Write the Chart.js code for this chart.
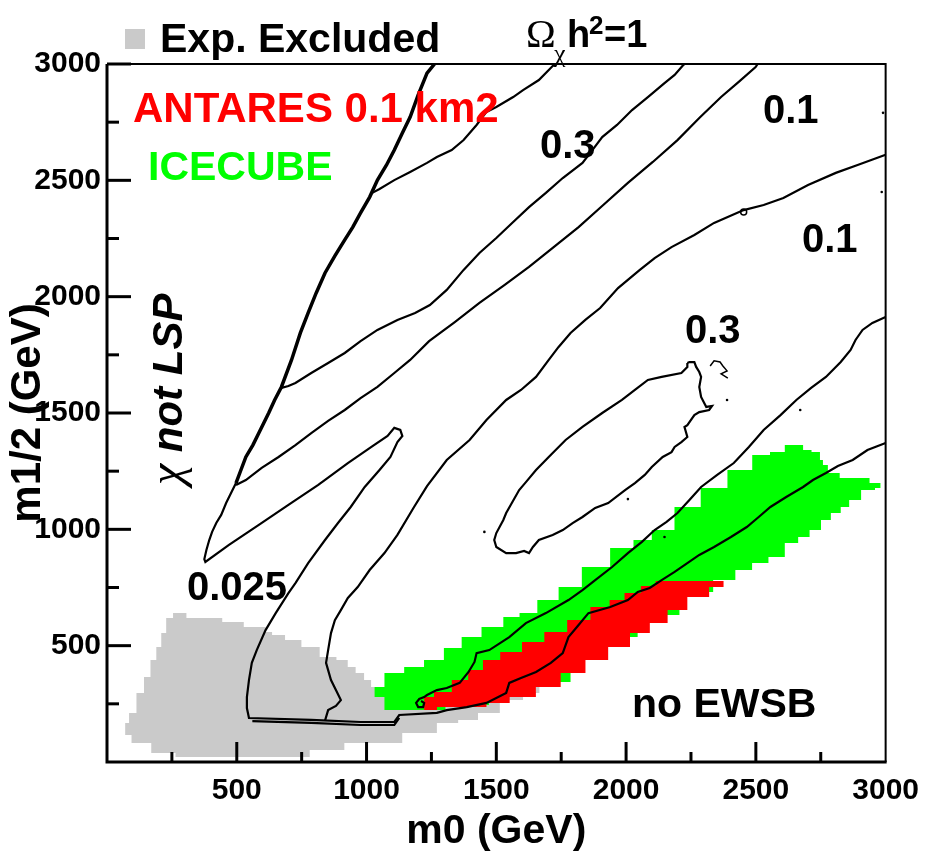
<!DOCTYPE html>
<html>
<head>
<meta charset="utf-8">
<script src="https://cdn.jsdelivr.net/npm/chart.js@4.4.0/dist/chart.umd.min.js"></script>
<style>
  html, body { margin: 0; padding: 0; background: #fff; }
  #wrap { width: 930px; height: 856px; }
</style>
</head>
<body>
<div id="wrap"><canvas id="chart" width="930" height="856"></canvas></div>
<script>
// axis labels
const xTickLabels = [500, 1000, 1500, 2000, 2500, 3000];
const yTickLabels = [500, 1000, 1500, 2000, 2500, 3000];

// contours, [m0, m1/2] in GeV
const lspBoundary = [[1262,3000],[1233,2961],[1199,2867],[1168,2772],[1138,2703],[1107,2630],[1077,2566],[1042,2501],[1012,2428],[977,2360],[947,2299],[916,2244],[878,2175],[840,2102],[806,2016],[775,1930],[745,1844],[711,1728],[672,1612],[646,1556],[623,1500],[585,1414],[562,1362],[535,1311],[516,1255],[497,1199]];

const omegaOne = [[1022,2446],[1050,2463],[1107,2501],[1168,2536],[1233,2575],[1271,2600],[1328,2630],[1374,2673],[1424,2738],[1462,2794],[1500,2815],[1565,2858],[1603,2888],[1664,2931],[1717,2991],[1729,3000]];

const level03 = [[672,1608],[699,1616],[726,1629],[787,1672],[852,1715],[916,1758],[977,1809],[1042,1857],[1119,1900],[1187,1930],[1244,1964],[1309,2029],[1374,2115],[1435,2188],[1500,2252],[1565,2321],[1626,2385],[1691,2446],[1756,2510],[1832,2575],[1870,2630],[1908,2686],[1965,2738],[2023,2802],[2084,2858],[2148,2918],[2187,2953],[2217,2991],[2225,3000]];

const level01 = [[497,1191],[535,1212],[596,1264],[661,1311],[726,1362],[787,1414],[852,1466],[916,1513],[977,1564],[1042,1612],[1107,1672],[1168,1728],[1241,1809],[1340,1891],[1435,1973],[1531,2050],[1626,2128],[1721,2213],[1817,2299],[1912,2394],[2007,2489],[2103,2579],[2198,2673],[2282,2768],[2366,2858],[2434,2923],[2499,2987],[2507,3000]];

const zBranch = [[497,1199],[459,1113],[440,1062],[421,1027],[405,989],[394,954],[383,911],[375,872],[379,860],
  [470,933],[585,1019],[699,1105],[814,1191],[928,1285],[1023,1358],[1081,1401],[1107,1436],[1130,1427],[1138,1401],
  [1119,1375],[1092,1311],[1050,1255],[993,1182],[939,1096],[890,1027],[840,954],[775,855],[726,769],[699,726],[650,640],[611,567],[577,481],[558,426],[547,352],[539,279],[539,232],[547,189],
  [787,181],[977,172],[1107,172],[1126,202],[1271,211],
  [1309,223],[1386,236],[1462,254],[1538,297],[1550,340],[1595,361],[1653,387],[1710,426],[1756,468],[1778,537],[1817,589],[1855,640],[1939,666],[2007,696],[2045,731],[2091,748],[2137,782],[2187,817],[2236,855],[2282,890],[2339,924],[2404,967],[2465,1010],[2511,1053],[2556,1096],[2617,1139],[2682,1182],[2720,1212],[2770,1242],[2816,1272],[2873,1298],[2930,1341],[3000,1371]];

const bottomTwin = [[560,176],[787,168],[977,159],[1107,159],[1126,190]];

const rightArm = [[840,178],[852,223],[882,241],[901,266],[882,309],[863,352],[852,395],[844,426],[852,481],[863,554],[878,610],[901,653],[928,705],[966,752],[1012,825],[1069,898],[1119,976],[1183,1096],[1233,1186],[1309,1298],[1397,1384],[1462,1470],[1538,1556],[1595,1599],[1653,1655],[1702,1728],[1740,1784],[1786,1844],[1843,1900],[1900,1951],[1969,2037],[2053,2115],[2110,2166],[2175,2213],[2263,2265],[2339,2317],[2453,2372],[2530,2394],[2606,2424],[2701,2480],[2808,2532],[2892,2566],[3000,2610]];

const upperBand = [[3000,1913],[2949,1887],[2911,1857],[2884,1814],[2865,1771],[2827,1719],[2770,1655],[2713,1608],[2656,1556],[2595,1491],[2530,1427],[2473,1354],[2415,1285],[2351,1234],[2289,1182],[2244,1126],[2198,1070],[2156,1032],[2110,997],[2061,946],[2007,898],[1946,838],[1881,782],[1832,739],[1778,696],[1691,640],[1614,597],[1550,537],[1473,481],[1424,468],[1416,430],[1393,387],[1359,340],[1309,318],[1271,309],[1233,288],[1222,279],[1203,271],[1191,254],[1199,236],[1218,236],[1222,254],[1210,262]];

const island = [[2236,1715],[2244,1719],[2263,1719],[2270,1698],[2282,1676],[2289,1655],[2282,1612],[2289,1569],[2309,1526],[2331,1530],[2320,1513],[2282,1504],[2263,1491],[2236,1448],[2225,1440],[2236,1397],[2213,1375],[2187,1354],[2175,1332],[2141,1311],[2099,1268],[2072,1234],[2034,1199],[1996,1169],[1931,1113],[1881,1092],[1832,1053],[1794,1027],[1756,997],[1717,976],[1664,954],[1641,924],[1626,898],[1607,907],[1576,898],[1538,898],[1500,924],[1492,954],[1500,984],[1527,1040],[1538,1070],[1588,1169],[1614,1203],[1653,1255],[1702,1311],[1767,1384],[1832,1440],[1908,1500],[1984,1556],[2034,1599],[2084,1642],[2137,1655],[2213,1672],[2236,1698],[2236,1715]];

const squiggle = [[2324,1702],[2339,1724],[2362,1719],[2373,1702],[2389,1681],[2366,1668],[2392,1650]];
const specks = [[2007,1130],[2389,1556],[2671,1513],[1454,989],[2148,967],[2985,2450],[2990,2790]];
const ringMark = [[2453,2364]];

// shaded regions
const expExcluded = [[241,619],[268,640],[306,640],[306,619],[444,619],[444,602],[527,602],[527,580],[611,580],[611,559],[661,546],[711,524],[787,494],[852,451],[916,438],[939,408],[977,383],[1004,352],[1031,322],[1119,288],[1233,258],[1386,266],[1576,301],[1729,378],[1767,361],[1756,352],[1691,322],[1641,297],[1565,266],[1462,211],[1397,181],[1309,168],[1233,125],[1042,82],[787,52],[775,21],[306,21],[222,39],[119,82],[70,116],[70,168],[100,211],[127,297],[158,365],[177,438],[203,494],[215,554],[241,619]];

const icecube = [[1031,322],[1107,383],[1183,408],[1260,438],[1336,490],[1397,537],[1489,580],[1565,623],[1614,640],[1702,696],[1778,752],[1881,838],[1996,920],[2061,954],[2137,997],[2236,1096],[2339,1178],[2442,1255],[2530,1319],[2579,1332],[2644,1362],[2682,1362],[2682,1341],[2747,1332],[2747,1298],[2770,1277],[2785,1242],[2823,1242],[2823,1221],[2938,1221],[2938,1199],[2980,1199],[2980,1178],[2938,1169],[2873,1126],[2846,1096],[2808,1070],[2770,1040],[2732,997],[2682,967],[2644,941],[2579,881],[2518,855],[2453,825],[2389,782],[2282,731],[2129,632],[1960,537],[1862,438],[1710,344],[1557,279],[1386,245],[1222,223],[1069,223],[1069,279],[1031,279],[1031,322]];

const antares = [[2385,778],[2137,778],[2091,756],[2023,726],[1965,696],[1908,666],[1817,610],[1729,559],[1641,516],[1557,473],[1473,438],[1424,395],[1359,352],[1298,301],[1222,279],[1222,223],[1321,236],[1424,236],[1500,254],[1603,279],[1702,322],[1794,383],[1893,438],[1969,494],[2061,554],[2122,597],[2198,653],[2274,709],[2366,752],[2385,778]];

const FONT = "'Liberation Sans', Arial, Helvetica, sans-serif";
Chart.defaults.font.family = FONT;
Chart.defaults.color = '#000';

const toPts = arr => arr.map(([x, y]) => ({ x, y }));

function contour(arr, width) {
  return {
    data: toPts(arr), showLine: true, borderColor: '#000', borderWidth: width || 2.2,
    pointRadius: 0, fill: false, tension: 0, order: 1
  };
}

function region(arr, color, order) {
  return {
    data: toPts(arr), showLine: true, borderColor: 'rgba(0,0,0,0)', borderWidth: 1,
    backgroundColor: color, pointRadius: 0, fill: 'shape', stepped: 'middle', tension: 0, order: order
  };
}

const decor = {
  id: 'decor',
  afterDatasetsDraw(chart) {
    const { ctx, chartArea: a, scales: { x, y } } = chart;
    ctx.save();
    ctx.strokeStyle = '#000';
    ctx.lineWidth = 3;
    for (let v = 250; v <= 3000; v += 250) {
      const major = v % 500 === 0;
      if (v < 3000) {
        const px = x.getPixelForValue(v);
        ctx.beginPath();
        ctx.moveTo(px, a.bottom);
        ctx.lineTo(px, a.bottom - (major ? 20 : 10));
        ctx.stroke();
      }
      const py = y.getPixelForValue(v);
      ctx.beginPath();
      ctx.moveTo(a.left, py);
      ctx.lineTo(a.left + (major ? 24 : 12), py);
      ctx.stroke();
    }
    // frame
    ctx.lineWidth = 2;
    ctx.beginPath();
    ctx.moveTo(a.left, a.top);
    ctx.lineTo(a.right, a.top);
    ctx.lineTo(a.right, a.bottom);
    ctx.stroke();
    ctx.lineWidth = 3;
    ctx.beginPath();
    ctx.moveTo(a.left, a.top);
    ctx.lineTo(a.left, a.bottom);
    ctx.lineTo(a.right + 1, a.bottom);
    ctx.stroke();
    ctx.restore();
  },
  afterDraw(chart) {
    const ctx = chart.ctx;
    const bold = s => 'bold ' + s + 'px ' + FONT;
    const put = (txt, x, y, font, color) => {
      ctx.font = font;
      ctx.fillStyle = color || '#000';
      ctx.fillText(txt, x, y);
    };
    ctx.save();
    ctx.textAlign = 'left';
    ctx.textBaseline = 'alphabetic';

    // legend
    ctx.fillStyle = '#cacaca';
    ctx.fillRect(125, 29, 20, 20);
    put('Exp. Excluded', 160, 52, bold(41));

    // Omega_chi h^2 = 1
    put('\u03A9', 526, 47, "40px 'Liberation Serif', serif");
    put('\u03C7', 554, 62, "26px 'Liberation Serif', serif");
    put('h', 567, 47, bold(38));
    put('2', 589, 34, bold(26));
    put('=1', 604, 47, bold(38));

    put('ANTARES 0.1 km2', 133, 122, bold(42), '#ff0000');
    put('ICECUBE', 148, 180, bold(41), '#00ff00');
    put('0.3', 540, 158, bold(40));
    put('0.1', 763, 123, bold(40));
    put('0.1', 802, 252, bold(40));
    put('0.3', 685, 343, bold(40));
    put('0.025', 187, 600, bold(40));
    put('no EWSB', 632, 717, bold(41));

    // chi not LSP, rotated
    ctx.translate(182, 485);
    ctx.rotate(-Math.PI / 2);
    ctx.fillStyle = '#000';
    ctx.font = "italic 48px 'Liberation Serif', serif";
    ctx.fillText('\u03C7', 0, 0);
    const w = ctx.measureText('\u03C7').width;
    ctx.font = 'italic ' + bold(42);
    ctx.fillText(' not LSP', w, 0);
    ctx.restore();
  }
};

new Chart(document.getElementById('chart'), {
  type: 'scatter',
  data: {
    datasets: [
      contour(lspBoundary, 3.5),
      contour(omegaOne),
      contour(level03),
      contour(level01),
      contour(zBranch),
      contour(bottomTwin),
      contour(rightArm),
      contour(upperBand),
      contour(island),
      contour(squiggle, 1.5),
      { data: toPts(specks), pointRadius: 1.3, backgroundColor: '#000', borderWidth: 0, order: 1 },
      { data: toPts(ringMark), pointRadius: 3, backgroundColor: '#fff', borderColor: '#000', borderWidth: 1.5, order: 1 },
      region(antares, '#ff0000', 8),
      region(icecube, '#00ff00', 9),
      region(expExcluded, '#cacaca', 10)
    ]
  },
  options: {
    responsive: false,
    animation: false,
    events: [],
    layout: { padding: { top: 64, right: 37, left: 0, bottom: 0 } },
    plugins: { legend: { display: false }, tooltip: { enabled: false } },
    scales: {
      x: {
        type: 'linear', min: 0, max: 3000,
        afterFit: s => { s.height = 94; },
        border: { display: false },
        grid: { display: false, drawTicks: false },
        ticks: {
          stepSize: 250, autoSkip: false, maxRotation: 0, minRotation: 0, padding: 11,
          font: { size: 30, weight: 'bold' },
          callback: v => xTickLabels.includes(v) ? String(v) : ''
        },
        title: { display: true, text: 'm0 (GeV)', font: { size: 41, weight: 'bold' }, padding: 0 }
      },
      y: {
        type: 'linear', min: 0, max: 3000,
        afterFit: s => { s.width = 107; },
        border: { display: false },
        grid: { display: false, drawTicks: false },
        ticks: {
          stepSize: 250, autoSkip: false, padding: 6,
          font: { size: 30, weight: 'bold' },
          callback: v => yTickLabels.includes(v) ? String(v) : ''
        },
        title: { display: true, text: 'm1/2 (GeV)', font: { size: 42, weight: 'bold' }, padding: { top: 3, bottom: 0 } }
      }
    }
  },
  plugins: [decor]
});
</script>
</body>
</html>
